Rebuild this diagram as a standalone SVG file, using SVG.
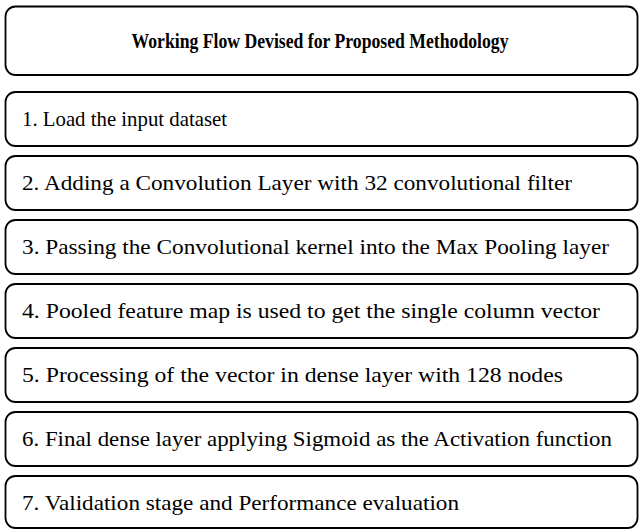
<svg xmlns="http://www.w3.org/2000/svg" width="639" height="529" viewBox="0 0 639 529">
<style>
rect.box{fill:#fff;stroke:#000;stroke-width:1.8}
text{font-family:"Liberation Serif","Times New Roman",serif;fill:#000}
text.step{font-size:21px}
text.title{font-size:20px;font-weight:bold}
</style>
<rect width="639" height="529" fill="#fff"/>
<g id="title">
<rect class="box" x="5.5" y="6.5" width="632" height="68.5" rx="10"/>
<text class="title" x="320" y="48" text-anchor="middle" textLength="377" lengthAdjust="spacingAndGlyphs">Working Flow Devised for Proposed Methodology</text>
</g>
<g id="step1">
<rect class="box" x="5.5" y="92" width="632" height="54" rx="10"/>
<text class="step" x="22" y="126" textLength="205" lengthAdjust="spacingAndGlyphs">1. Load the input dataset</text>
</g>
<g id="step2">
<rect class="box" x="5.5" y="156" width="632" height="54" rx="10"/>
<text class="step" x="22" y="190" textLength="550" lengthAdjust="spacingAndGlyphs">2. Adding a Convolution Layer with 32 convolutional filter</text>
</g>
<g id="step3">
<rect class="box" x="5.5" y="220" width="632" height="54" rx="10"/>
<text class="step" x="22" y="254" textLength="587" lengthAdjust="spacingAndGlyphs">3. Passing the Convolutional kernel into the Max Pooling layer</text>
</g>
<g id="step4">
<rect class="box" x="5.5" y="284" width="632" height="54" rx="10"/>
<text class="step" x="22" y="318" textLength="578" lengthAdjust="spacingAndGlyphs">4. Pooled feature map is used to get the single column vector</text>
</g>
<g id="step5">
<rect class="box" x="5.5" y="348" width="632" height="54" rx="10"/>
<text class="step" x="22" y="382" textLength="541" lengthAdjust="spacingAndGlyphs">5. Processing of the vector in dense layer with 128 nodes</text>
</g>
<g id="step6">
<rect class="box" x="5.5" y="412" width="632" height="54" rx="10"/>
<text class="step" x="22" y="446" textLength="590" lengthAdjust="spacingAndGlyphs">6. Final dense layer applying Sigmoid as the Activation function</text>
</g>
<g id="step7">
<rect class="box" x="5.5" y="476" width="632" height="52" rx="10"/>
<text class="step" x="22" y="510" textLength="437" lengthAdjust="spacingAndGlyphs">7. Validation stage and Performance evaluation</text>
</g>
<g id="connectors"/>
</svg>
